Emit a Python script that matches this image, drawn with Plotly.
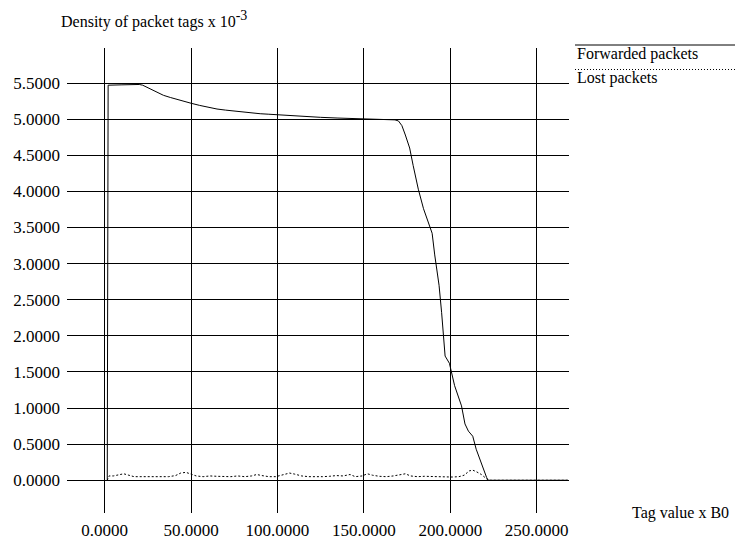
import plotly.graph_objects as go

# Forwarded packets: density of tags (x 1e-3) against tag value (x B0)
fwd_x = [1.5, 2.0, 10, 20, 22, 26, 30, 34, 38, 42, 46, 50, 55, 60, 65, 70, 75, 80,
         85, 90, 95, 100, 107, 115, 125, 135, 145, 155, 162, 168, 170, 172, 174,
         176.5, 178.5, 181.5, 184.5, 188, 189.5, 191, 193.5, 195, 197, 199.5,
         202.5, 206.5, 208.5, 210.5, 213, 215, 218, 221, 222, 268]
fwd_y = [0.0, 5.47, 5.475, 5.48, 5.47, 5.42, 5.37, 5.33, 5.30, 5.27, 5.245, 5.22,
         5.19, 5.16, 5.14, 5.125, 5.11, 5.095, 5.085, 5.075, 5.068, 5.06, 5.055,
         5.04, 5.025, 5.015, 5.005, 5.0, 4.995, 4.99, 4.975, 4.91, 4.78, 4.6,
         4.36, 4.03, 3.76, 3.53, 3.42, 3.12, 2.7, 2.32, 1.72, 1.62, 1.31, 1.03,
         0.78, 0.68, 0.61, 0.43, 0.22, 0.04, 0.0, 0.0]

# Lost packets
lost_x = [1.5, 2.5, 5, 8, 11, 14, 17, 21, 25, 29, 33, 37, 41, 44, 47, 50, 53, 57,
          61, 65, 69, 73, 77, 81, 85, 88, 91, 95, 99, 103, 107, 110, 114, 118,
          122, 126, 130, 134, 138, 142, 145, 149, 152, 155, 159, 163, 167, 171,
          174, 177, 181, 185, 189, 193, 197, 201, 205, 208, 211, 213, 215, 218,
          220, 222, 268]
lost_y = [0.0, 0.06, 0.06, 0.07, 0.09, 0.07, 0.05, 0.05, 0.055, 0.05, 0.05, 0.05,
          0.065, 0.10, 0.11, 0.08, 0.06, 0.05, 0.06, 0.055, 0.05, 0.05, 0.06, 0.05,
          0.06, 0.08, 0.065, 0.05, 0.05, 0.07, 0.10, 0.085, 0.06, 0.05, 0.045,
          0.05, 0.055, 0.065, 0.06, 0.08, 0.05, 0.06, 0.09, 0.07, 0.055, 0.05,
          0.06, 0.08, 0.09, 0.06, 0.05, 0.055, 0.05, 0.055, 0.05, 0.045, 0.05,
          0.07, 0.13, 0.14, 0.12, 0.08, 0.04, 0.0, 0.0]

x_ticks = [0, 50, 100, 150, 200, 250]
y_ticks = [0.0, 0.5, 1.0, 1.5, 2.0, 2.5, 3.0, 3.5, 4.0, 4.5, 5.0, 5.5]

FONT = "Liberation Serif, Times New Roman, serif"
TICK_FS = 17
TEXT_FS = 16

# page geometry (pixels) used to place the free-standing labels
W, H = 735, 539
L, R, T, B = 67, 166, 48, 26


def px(p):
    return (p - L) / (W - L - R)


def py(p):
    return (H - B - p) / (H - T - B)


fig = go.Figure()
fig.add_trace(go.Scatter(x=fwd_x, y=fwd_y, mode="lines", name="Forwarded packets",
                         line=dict(color="black", width=1)))
fig.add_trace(go.Scatter(x=lost_x, y=lost_y, mode="lines", name="Lost packets",
                         line=dict(color="black", width=1, dash="2px,2px")))

axis_common = dict(showgrid=True, gridcolor="black", gridwidth=1, showline=False,
                   zeroline=True, zerolinecolor="black", zerolinewidth=1,
                   ticks="", automargin=False,
                   tickfont=dict(family=FONT, size=TICK_FS, color="black"),
                   fixedrange=True)

fig.update_xaxes(range=[-21.8, 268.7], tickvals=x_ticks,
                 ticktext=[f"{v:.4f}" for v in x_ticks],
                 ticklabelstandoff=5, **axis_common)
fig.update_yaxes(range=[-0.453, 5.985], tickvals=y_ticks,
                 ticktext=[f"{v:.4f}" for v in y_ticks],
                 ticklabelstandoff=6, **axis_common)

annotations = [
    dict(text="Density of packet tags x 10<sup><span style='font-size:14px'>-3</span></sup>",
         x=px(60), y=py(19), xanchor="left", yanchor="middle"),
    dict(text="Tag value x B0", x=px(631), y=py(513), xanchor="left", yanchor="middle"),
    dict(text="Forwarded packets", x=px(576), y=py(53.5), xanchor="left", yanchor="middle"),
    dict(text="Lost packets", x=px(576), y=py(78.5), xanchor="left", yanchor="middle"),
]
for a in annotations:
    fig.add_annotation(xref="paper", yref="paper", showarrow=False,
                       font=dict(family=FONT, size=TEXT_FS, color="black"),
                       borderpad=0, **a)

# legend keys
fig.add_shape(type="line", xref="paper", yref="paper", x0=px(575), x1=px(735),
              y0=py(45), y1=py(45), line=dict(color="black", width=1))
fig.add_shape(type="line", xref="paper", yref="paper", x0=px(575), x1=px(735),
              y0=py(69.5), y1=py(69.5), line=dict(color="black", width=1, dash="1px,2px"))

fig.update_layout(width=W, height=H, margin=dict(l=L, r=R, t=T, b=B),
                  paper_bgcolor="white", plot_bgcolor="white", showlegend=False,
                  font=dict(family=FONT, size=TEXT_FS, color="black"))

fig.write_html("out.html")
